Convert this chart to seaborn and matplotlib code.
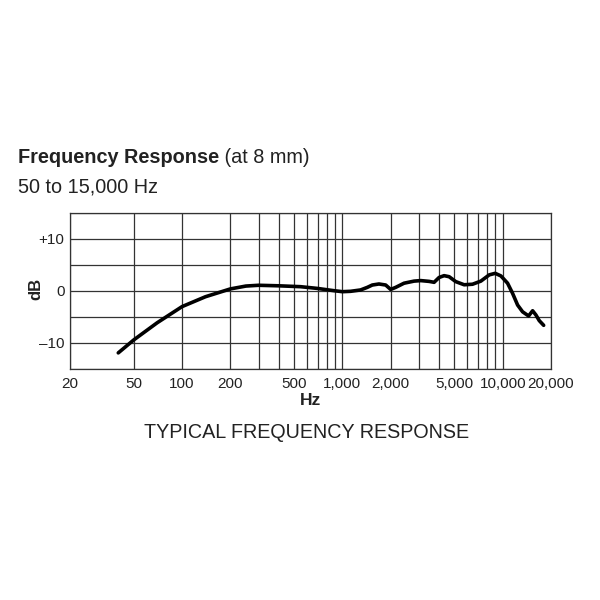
import numpy as np
import pandas as pd
import matplotlib
matplotlib.use("Agg")
import matplotlib.pyplot as plt
import seaborn as sns

# ---- data ----
freq_hz = [40, 50, 70, 100, 140, 200, 250, 300, 400, 548, 696, 885, 1000, 1125,
           1298, 1430, 1536, 1690, 1862, 2000, 2150, 2424, 2798, 3080, 3474,
           3732, 4008, 4308, 4630, 5096, 5746, 6478, 7303, 8236, 8974, 9740,
           10718, 11520, 12380, 13300, 14500, 15360, 16100, 16900, 18000]
response_db = [-11.9, -9.4, -6.1, -3.0, -1.1, 0.4, 0.95, 1.1, 1.0, 0.83, 0.5, 0.06, -0.13, -0.06,
               0.2, 0.7, 1.15, 1.35, 1.15, 0.3, 0.7, 1.5, 1.9, 2.0, 1.85,
               1.67, 2.6, 2.95, 2.75, 1.8, 1.2, 1.3, 1.9, 3.1, 3.4, 2.9,
               1.5, -0.45, -2.7, -4.0, -4.8, -3.8, -4.6, -5.7, -6.6]

x_major_ticks = [20, 50, 100, 200, 500, 1000, 2000, 5000, 10000, 20000]
x_tick_labels = ["20", "50", "100", "200", "500", "1,000", "2,000", "5,000", "10,000", "20,000"]
x_minor_grid = [300, 400, 600, 700, 800, 900, 3000, 4000, 6000, 7000, 8000, 9000]
y_ticks = [-10, 0, 10]
y_tick_labels = ["\u201310", "0", "+10"]
y_grid = [-15, -10, -5, 0, 5, 10, 15]

sns.set_style("white")
plt.rcParams['font.family'] = ['Liberation Sans', 'DejaVu Sans']
TXT = "#222222"
GRID = "#333333"

fig = plt.figure(figsize=(6, 6), dpi=100)
ax = fig.add_axes([70/600, 1 - 369/600, 481/600, 156/600])

df = pd.DataFrame({"Hz": freq_hz, "dB": response_db})
sns.lineplot(data=df, x="Hz", y="dB", ax=ax, color="black", linewidth=2.6,
             estimator=None, sort=False, solid_joinstyle="round",
             solid_capstyle="round")

ax.set_xscale("log")
ax.set_xlim(20, 20000)
ax.set_ylim(-15, 15)

ax.set_xticks(x_major_ticks)
ax.set_xticklabels(x_tick_labels)
ax.set_xticks(x_minor_grid, minor=True)
ax.set_xticklabels([], minor=True)
ax.set_yticks(y_grid, minor=True)
ax.set_yticks(y_ticks)
ax.set_yticklabels(y_tick_labels)

ax.grid(True, which="both", axis="both", color=GRID, linewidth=0.9)
ax.tick_params(which="both", length=0, colors=TXT, labelsize=11)
ax.tick_params(axis="x", pad=6)
ax.tick_params(axis="y", pad=4)
for s in ax.spines.values():
    s.set_color(GRID)
    s.set_linewidth(0.9)

ax.set_xlabel("Hz", fontsize=12.5, fontweight="bold", color=TXT, labelpad=1)
ax.set_ylabel("")
fig.text(36/600, 1 - 289/600, "dB", fontsize=12, fontweight="bold", color=TXT,
         rotation=90, ha="center", va="center")

t1 = fig.text(18/600, 1 - 163/600, "Frequency Response", fontsize=14.3,
              fontweight="bold", color=TXT, ha="left", va="baseline")
fig.canvas.draw()
ax.annotate(" (at 8 mm)", xy=(1, 0), xycoords=t1, fontsize=14.3, color=TXT,
            ha="left", va="bottom")
fig.text(18/600, 1 - 192/600, "50 to 15,000 Hz", fontsize=14.3, color=TXT,
         ha="left", va="baseline")
fig.text(307/600, 1 - 433/600, "TYPICAL FREQUENCY RESPONSE", fontsize=14.2,
         color=TXT, ha="center", va="center")

fig.savefig("out.png", dpi=100)
